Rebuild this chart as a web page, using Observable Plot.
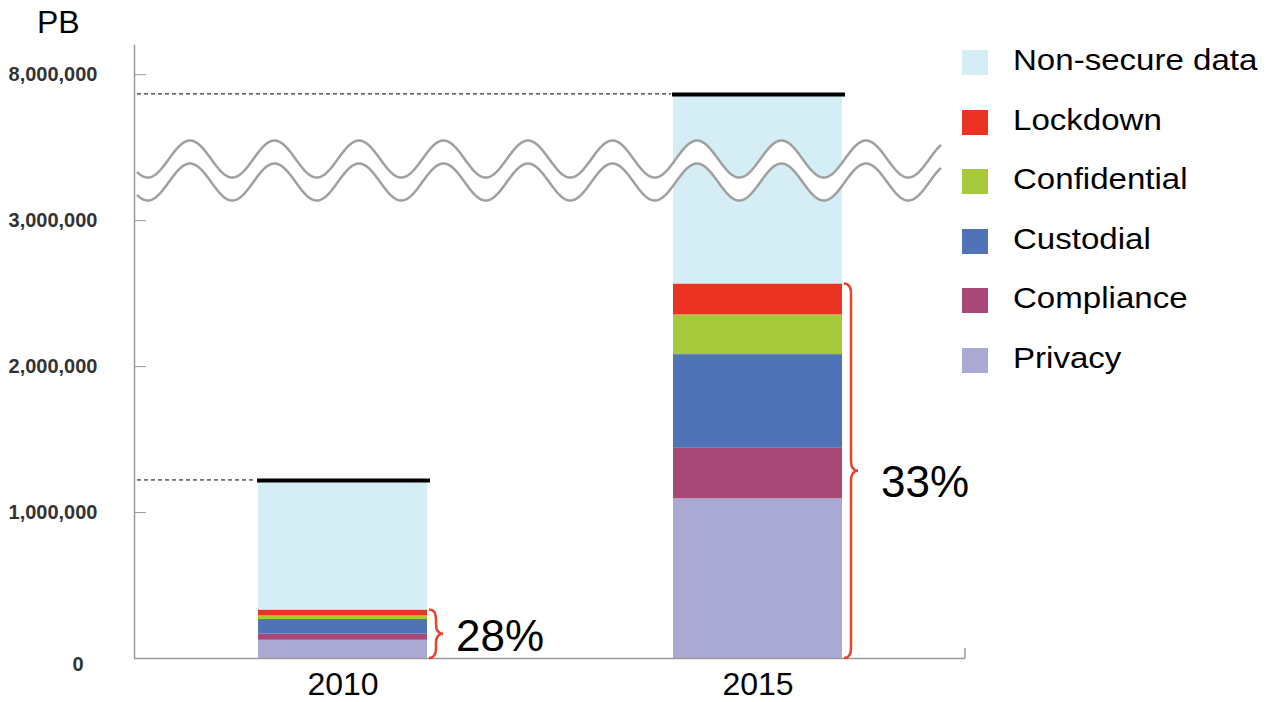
<!DOCTYPE html>
<html>
<head>
<meta charset="utf-8">
<script src="https://cdn.jsdelivr.net/npm/d3@7"></script>
<script src="https://cdn.jsdelivr.net/npm/@observablehq/plot@0.6"></script>
<style>
  html, body { margin: 0; padding: 0; background: #fff; }
  #wrap { position: relative; width: 1268px; height: 702px; font-family: "Liberation Sans", Arial, sans-serif; }
  #unit { position: absolute; left: 37px; top: 4px; font-size: 32px; color: #000; }
  #legend { position: absolute; left: 962px; top: 50px; }
  .item { position: relative; height: 59.5px; }
  .sw { position: absolute; left: 0; top: 0; width: 26px; height: 25px; }
  .lab { position: absolute; left: 51px; top: -6px; font-size: 29px; color: #000; white-space: nowrap; transform: scaleX(1.14); transform-origin: left center; }
</style>
</head>
<body>
<div id="wrap">
  <div id="unit">PB</div>
  <div id="legend"></div>
</div>
<script>
// ---- data (petabytes) ----
const years = ["2010", "2015"];
const categories = ["Privacy", "Compliance", "Custodial", "Confidential", "Lockdown", "Non-secure data"];
const values2010 = [125000, 42000, 100000, 25000, 40000, 888000];
const values2015 = [1094000, 346000, 642000, 272000, 212000, 5299000];
const totals = [1220000, 7865000];
const secureShares = ["28%", "33%"];
const colors = ["#aaa9d3", "#a84877", "#5073b7", "#a6ca3b", "#ea3323", "#d5edf5"];
const yTicks = [1000000, 2000000, 3000000, 8000000];
const yZeroTick = [0];
const legendOrder = ["Non-secure data", "Lockdown", "Confidential", "Custodial", "Compliance", "Privacy"];

const seriesByYear = [values2010, values2015];
const rows = years.flatMap((yr, i) => categories.map((c, j) => ({year: yr, category: c, value: seriesByYear[i][j]})));
const totalRows = years.map((yr, i) => ({year: yr, total: totals[i]}));
const secureRows = years.map((yr, i) => ({
  year: yr,
  secure: d3.sum(seriesByYear[i].slice(0, 5)),
  share: secureShares[i]
}));

const fmt = d3.format(",d");
// broken axis: values above the break are shifted down by 4,000,000
const brk = v => (v > 4000000 ? v - 4000000 : v);

const svg = Plot.plot({
  width: 1268,
  height: 702,
  marginLeft: 134,
  marginRight: 303,
  marginTop: 45,
  marginBottom: 44,
  style: {fontFamily: "'Liberation Sans', Arial, sans-serif", background: "transparent", overflow: "visible"},
  x: {domain: years, paddingInner: 0.593, paddingOuter: 0.296},
  y: {domain: [0, 4200000], transform: brk},
  color: {domain: categories, range: colors},
  marks: [
    Plot.barY(rows, {x: "year", y: "value", fill: "category"}),
    Plot.tickY(totalRows, {x: "year", y: "total", stroke: "#000", strokeWidth: 4, insetLeft: -1, insetRight: -3}),
    Plot.ruleY([0], {stroke: "#9a9a9a", strokeWidth: 1.5}),
    Plot.frame({anchor: "left", stroke: "#9a9a9a", strokeWidth: 1.5}),
    Plot.axisY(yZeroTick.concat(yTicks), {tickSize: 12, dx: 12, tickFormat: () => "", stroke: "#9a9a9a", label: null}),
    Plot.axisY(yTicks, {tickSize: 0, tickPadding: 37, tickFormat: fmt, fontSize: 20, fontWeight: "bold", fill: "#333", label: null}),
    Plot.axisY(yZeroTick, {tickSize: 0, tickPadding: 51, tickFormat: fmt, fontSize: 20, fontWeight: "bold", fill: "#333", dy: 6, label: null}),
    Plot.axisX({tickSize: 0, tickPadding: 14, fontSize: 32, fill: "#000", label: null}),
    Plot.text(secureRows.slice(0, 1), {x: "year", y: d => d.secure / 2, text: "share", textAnchor: "start", dx: 113, dy: 3, fontSize: 44, fill: "#000"}),
    Plot.text(secureRows.slice(1), {x: "year", y: d => d.secure / 2, text: "share", textAnchor: "start", dx: 123, dy: 12, fontSize: 44, fill: "#000"})
  ]
});

const xs = svg.scale("x"), ys = svg.scale("y");
const sel = d3.select(svg);

// dashed leader lines from the axis to each bar's total
totalRows.forEach(d => {
  const yy = ys.apply(brk(d.total));
  const xl = xs.range[0] + 3, xr = xs.apply(d.year) - 2;
  sel.append("path").attr("d", `M${xl},${yy}H${xr}`).attr("stroke", "#000").attr("stroke-width", 1).attr("stroke-dasharray", "4,3").attr("fill", "none");
});

// end tick on x axis
const xEnd = xs.range[1];
const y0 = ys.apply(0);
sel.append("path").attr("d", `M${xEnd},${y0}v-10`).attr("stroke", "#9a9a9a").attr("stroke-width", 1.5).attr("fill", "none");

// red braces around the secure share
secureRows.forEach((d, i) => {
  const x0 = xs.apply(d.year) + xs.bandwidth + 2;
  const yt = ys.apply(d.secure), yb = ys.apply(0);
  const w = 14, r = Math.min(10, (yb - yt) / 5);
  const xm = x0 + w / 2, ym = (yt + yb) / 2;
  const p = `M${x0},${yt} Q${xm},${yt} ${xm},${yt + r} L${xm},${ym - r} Q${xm},${ym} ${x0 + w},${ym} Q${xm},${ym} ${xm},${ym + r} L${xm},${yb - r} Q${xm},${yb} ${x0},${yb}`;
  sel.append("path").attr("d", p).attr("fill", "none").attr("stroke", "#e8412c").attr("stroke-width", 2.5);
});

// wavy axis-break band
const cy = ys.apply(3340000);
const A = 18.5, half = 11.5, P = 84.5, crest = 697;
const xa = xs.range[0] + 3, xb = 941;
const up = [], lo = [];
for (let px = xa; px <= xb; px += 1) {
  const c = Math.cos(2 * Math.PI * (px - crest) / P);
  up.push([px, cy - half - A * c]);
  lo.push([px, cy + half - A * c]);
}
const line = d3.line();
sel.append("path").attr("d", line(up.concat(lo.slice().reverse())) + "Z").attr("fill", "#fff").attr("stroke", "none");
sel.append("path").attr("d", line(up)).attr("fill", "none").attr("stroke", "#a0a0a0").attr("stroke-width", 2.5);
sel.append("path").attr("d", line(lo)).attr("fill", "none").attr("stroke", "#a0a0a0").attr("stroke-width", 2.5);

const wrap = document.getElementById("wrap");
svg.style.position = "absolute";
svg.style.left = "0";
svg.style.top = "0";
wrap.insertBefore(svg, wrap.firstChild);

// legend
const colorOf = Object.fromEntries(categories.map((c, i) => [c, colors[i]]));
const legend = document.getElementById("legend");
legendOrder.forEach(c => {
  const it = document.createElement("div");
  it.className = "item";
  it.innerHTML = `<div class="sw" style="background:${colorOf[c]}"></div><span class="lab">${c}</span>`;
  legend.appendChild(it);
});
</script>
</body>
</html>
